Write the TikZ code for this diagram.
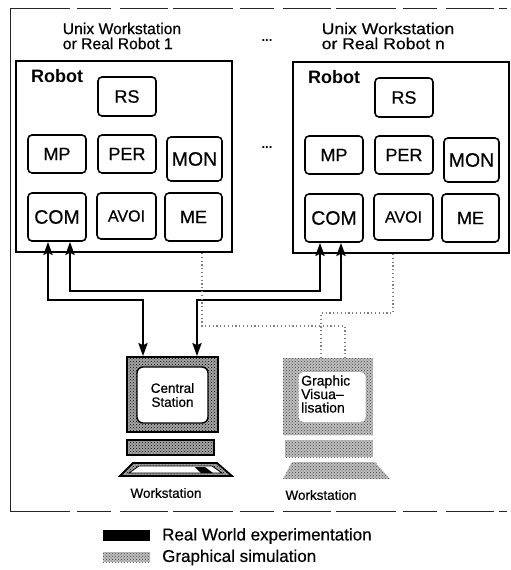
\documentclass[tikz,border=0pt]{standalone}
\usepackage{fontspec}
\setmainfont{Liberation Sans}[UprightFeatures={FakeBold=0.5}]
\newfontfamily\widesans{Liberation Sans}[FakeStretch=1.12, UprightFeatures={FakeBold=0.5}]
\usetikzlibrary{arrows.meta,patterns}

\tikzset{
  robotframe/.style={draw, line width=1.8pt, minimum width=216pt, minimum height=191pt, inner sep=0pt},
  robotlabel/.style={font=\bfseries\fontsize{18}{18}\selectfont, inner sep=0pt},
  modbox/.style={draw, line width=1.6pt, rounded corners=4pt, inner sep=0pt,
    font=\fontsize{18}{18}\selectfont},
  link/.style={line width=2.4pt,
    {Stealth[length=13pt,width=9pt,inset=2pt]}-{Stealth[length=13pt,width=9pt,inset=2pt]}},
  simlink/.style={line width=1.1pt, black!50, dash pattern=on 1.2pt off 2.6pt},
  stipple/.style={preaction={fill=black!35}, pattern=crosshatch dots, pattern color=black},
  softstipple/.style={preaction={fill=black!25}, pattern=crosshatch dots, pattern color=black!75},
  caption/.style={font=\fontsize{13.5}{13.5}\selectfont, inner sep=0pt},
  framedash/.style={line width=0.9pt, black!85, dash pattern=on 60pt off 7pt on 34pt off 9pt on 48pt off 5pt},
}

% one robot unit: frame, label and its seven modules
\newcommand\robotbody{%
  \node[robotframe] (frame) at (124,156.5) {};
  \node[robotlabel] (label) at (57,76.5) {Robot};
  \node[modbox, minimum width=58pt, minimum height=39pt] (RS)   at (127,96.5) {RS};
  \node[modbox, minimum width=58pt, minimum height=38pt] (MP)   at (57,154) {MP};
  \node[modbox, minimum width=58pt, minimum height=38pt] (PER)  at (127,154) {PER};
  \node[modbox, minimum width=55pt, minimum height=44pt, font=\fontsize{19.5}{19.5}\selectfont] (MON) at (194.5,159) {MON};
  \node[modbox, minimum width=58pt, minimum height=48pt, font=\fontsize{19.5}{19.5}\selectfont] (COM) at (57,217) {COM};
  \node[modbox, minimum width=59pt, minimum height=46pt, font=\fontsize{16}{16}\selectfont] (AVOI) at (126.5,216) {AVOI};
  \node[modbox, minimum width=57pt, minimum height=48pt] (ME)   at (193.5,217) {ME};
}

\begin{document}
\begin{tikzpicture}[x=1pt, y=-1pt]
\useasboundingbox (0,0) rectangle (511,570);

% outer frame
\draw[line width=0.9pt, black!85] (10,8) -- (10,511);
\draw[framedash] (10,8) -- (507,8);
\draw[framedash] (10,511) -- (507,511);

% robot units
\begin{scope}[name prefix=l-]
  \robotbody
\end{scope}
\begin{scope}[shift={(277,1)}, name prefix=r-]
  \robotbody
\end{scope}

\node[align=left, inner sep=0pt, font=\fontsize{15.7}{15}\selectfont] (titlel) at (122,36)
  {Unix Workstation\\or Real Robot 1};
\node[align=left, inner sep=0pt, font=\widesans\fontsize{15.7}{15}\selectfont] (titler) at (388,36)
  {Unix Workstation\\or Real Robot n};

\node[font=\bfseries\fontsize{13}{13}\selectfont, inner sep=0pt] (dotsa) at (267,41) {...};
\node[font=\bfseries\fontsize{13}{13}\selectfont, inner sep=0pt] (dotsb) at (267,148) {...};

% central station workstation
\node[draw, line width=1.6pt, stipple, minimum width=91pt, minimum height=75pt, inner sep=0pt] (cmon) at (172.5,394.5) {};
\node[draw, fill=white, line width=1.4pt, rounded corners=6pt, minimum width=71pt, minimum height=56pt,
  align=center, font=\fontsize{13.5}{14}\selectfont, inner sep=0pt] (cscreen) at (172.5,395) {Central\\Station};
\node[draw, line width=1.2pt, stipple, minimum width=87pt, minimum height=15pt, inner sep=0pt] (ckbd) at (170.5,447.5) {};
\draw[line width=1.8pt, stipple] (133,463) -- (217,463) -- (232,476) -- (120,476) -- cycle;
\draw[line width=0.8pt, fill=white] (139,466) -- (212,466) -- (222,473) -- (129,473) -- cycle;
\fill (195,467) -- (205,467) -- (213,473) -- (201,473) -- cycle;
\node[caption] (cws) at (166,493) {Workstation};

% graphic visualisation workstation
\node[softstipple, minimum width=90pt, minimum height=77pt, inner sep=0pt] (gmon) at (328,396.5) {};
\node[fill=white, rounded corners=5pt, minimum width=67pt, minimum height=50pt, inner sep=0pt] (gscreen) at (332,397) {};
\node[anchor=west, align=left, inner sep=0pt, font=\fontsize{14}{13.5}\selectfont] (gtext) at (301,394)
  {Graphic\\Visua--\\lisation};
\node[softstipple, minimum width=88pt, minimum height=17pt, inner sep=0pt] (gkbd) at (329,448.5) {};
\fill[softstipple] (292,462) -- (375,462) -- (390,479) -- (283,479) -- cycle;
\node[caption] (gws) at (321,495) {Workstation};

% connection points
\coordinate (la) at ([xshift=-9pt]l-COM.south);
\coordinate (lb) at ([xshift=13pt]l-COM.south);
\coordinate (ra) at ([xshift=-14pt]r-COM.south);
\coordinate (rb) at ([xshift=7pt]r-COM.south);
\coordinate (ca) at ([xshift=-29.5pt]cmon.north);
\coordinate (cb) at ([xshift=24.5pt]cmon.north);
\coordinate (busA) at (0,300);
\coordinate (busB) at (0,291);

% real world links
\draw[link] (la) |- (ca |- busA) -- (ca);
\draw[link] (lb) |- (ra |- busB) -- (ra);
\draw[link] (rb) |- (cb |- busA) -- (cb);

% simulation links
\coordinate (lg) at ([xshift=78pt]l-frame.south);
\coordinate (rg) at ([xshift=-8pt]r-frame.south);
\coordinate (ga) at ([xshift=-7pt]gmon.north);
\coordinate (gb) at ([xshift=17pt]gmon.north);
\coordinate (busG1) at (0,326);
\coordinate (busG2) at (0,313);
\draw[simlink] (lg) |- (gb |- busG1) -- (gb);
\draw[simlink] (rg) |- (ga |- busG2) -- (ga);

% legend
\node[fill=black, minimum width=47pt, minimum height=11pt, inner sep=0pt] (keyreal) at (126.5,535.5) {};
\node[anchor=west, inner sep=0pt, font=\fontsize{17}{17}\selectfont] (txtreal) at (162,536) {Real World experimentation};
\node[softstipple, minimum width=47pt, minimum height=10pt, inner sep=0pt] (keysim) at (126.5,557) {};
\node[anchor=west, inner sep=0pt, font=\fontsize{17}{17}\selectfont] (txtsim) at (162,557.5) {Graphical simulation};
\end{tikzpicture}
\end{document}
